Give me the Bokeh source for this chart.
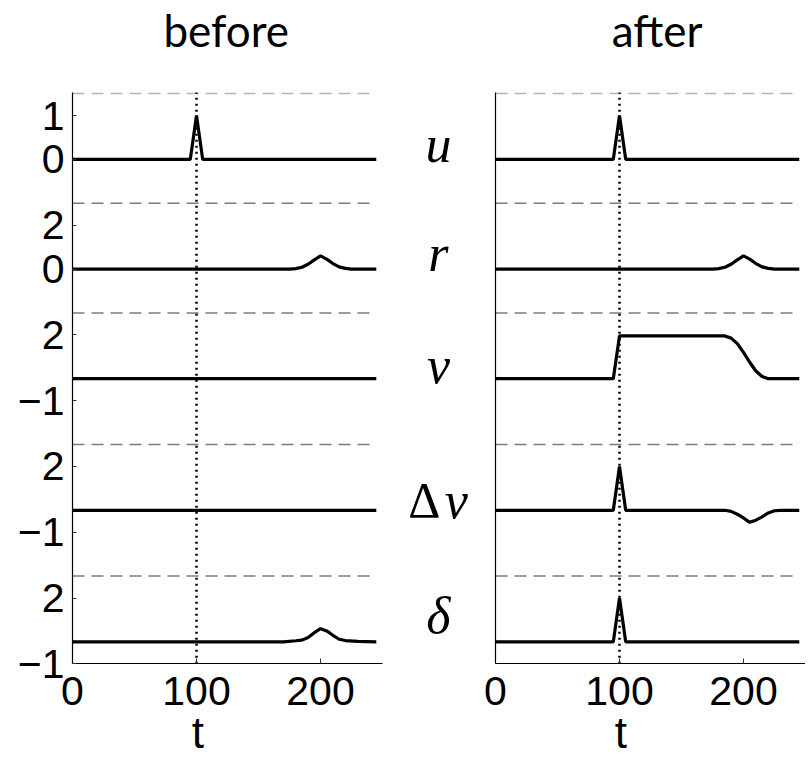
from bokeh.plotting import figure
from bokeh.models import FixedTicker, Label, Range1d, LinearAxis
from bokeh.layouts import row
from bokeh.embed import file_html
from bokeh.resources import INLINE

# ---------------- data ----------------
t_spike = [0, 95, 100, 105, 245]
u_vals = [0, 0, 1, 0, 0]

t_r = [0, 175, 180, 185, 190, 195, 200, 205, 210, 215, 220, 225, 245]
r_vals = [0, 0, 0.02, 0.08, 0.22, 0.42, 0.6, 0.45, 0.25, 0.1, 0.03, 0, 0]

t_flat = [0, 245]
flat_vals = [0, 0]

t_delta_before = [0, 170, 180, 185, 190, 195, 200, 205, 210, 215, 220, 230, 245]
delta_before = [0, 0, 0.05, 0.08, 0.2, 0.42, 0.6, 0.5, 0.3, 0.12, 0.06, 0.02, 0]

t_v_after = [0, 95, 100, 185, 190, 195, 200, 205, 210, 215, 220, 245]
v_after = [0, 0, 1.95, 1.95, 1.85, 1.6, 1.2, 0.75, 0.35, 0.1, 0, 0]

t_dv_after = [0, 95, 100, 105, 185, 190, 195, 200, 205, 210, 215, 220, 225, 230, 245]
dv_after = [0, 0, 2, 0, 0, -0.05, -0.18, -0.35, -0.55, -0.45, -0.3, -0.12, -0.02, 0, 0]

t_delta_after = [0, 95, 100, 105, 245]
delta_after = [0, 0, 2, 0, 0]

before_series = [(t_spike, u_vals), (t_r, r_vals), (t_flat, flat_vals),
                 (t_flat, flat_vals), (t_delta_before, delta_before)]
after_series = [(t_spike, u_vals), (t_r, r_vals), (t_v_after, v_after),
                (t_dv_after, dv_after), (t_delta_after, delta_after)]

panel_names = ["u", "r", "v", "Δv", "δ"]
panel_offsets = [23, 18, 13, 7, 1]
panel_scales = [2, 1, 1, 1, 1]
panel_tops = [26, 21, 16, 10, 4]
panel_ticks = [[1, 0], [2, 0], [2, -1], [2, -1], [2, -1]]
x_ticks = [0, 100, 200]
t_max = 250
y_top = 26.05
event_t = 100
titles = ["before", "after"]

# ---------------- styling ----------------
TICK_FONT = "Liberation Sans"
TICK_SIZE = "41px"
FIG_H = 756
PX_X = 1.24            # px per t unit
PX_Y = 571.3 / y_top   # px per stacked unit
AXIS_Y_PX = 663.3      # pixel row of the time axis


def fmt(v):
    return ("−%d" % -v) if v < 0 else "%d" % v


def make_fig(series, title, show_ylabels, width, axis_x_px, title_x):
    x0 = -axis_x_px / PX_X
    x1 = (width - axis_x_px) / PX_X
    y1 = AXIS_Y_PX / PX_Y
    y0 = -(FIG_H - AXIS_Y_PX) / PX_Y
    p = figure(width=width, height=FIG_H, output_backend="svg", toolbar_location=None,
               x_range=Range1d(x0, x1), y_range=Range1d(y0, y1),
               x_axis_location=None, y_axis_location=None,
               min_border=0, min_border_left=0, min_border_right=0,
               min_border_top=0, min_border_bottom=0)
    p.outline_line_color = None
    p.grid.visible = False
    p.background_fill_color = "white"
    p.border_fill_color = "white"

    # dashed separators
    for i, top in enumerate(panel_tops):
        col = "#b4b4b4" if i == 0 else "#7c7c7c"
        p.line([0, 245], [top, top], line_color=col, line_width=1.5, line_dash="12 7")

    # dotted event line
    p.line([event_t, event_t], [0, y_top], line_color="black", line_width=2.5,
           line_dash="2 4")

    # data traces
    for (tt, vals), off, sc in zip(series, panel_offsets, panel_scales):
        p.line(tt, [off + sc * v for v in vals], line_color="black", line_width=3.2)

    # time axis
    ax = LinearAxis(fixed_location=0, bounds=(0, t_max), ticker=FixedTicker(ticks=x_ticks))
    ax.major_tick_in = 5
    ax.major_tick_out = 0
    ax.minor_tick_line_color = None
    ax.axis_line_color = "black"
    ax.axis_line_width = 1.2
    ax.major_tick_line_color = "#333333"
    ax.major_label_text_font = TICK_FONT
    ax.major_label_text_font_size = TICK_SIZE
    ax.major_label_text_color = "black"
    ax.major_label_standoff = 13
    p.add_layout(ax, "below")

    # stacked value axis
    ay = LinearAxis(fixed_location=0, bounds=(0, y_top))
    ay.axis_line_color = "black"
    ay.axis_line_width = 1.2
    ay.minor_tick_line_color = None
    if show_ylabels:
        pos, labs = [], {}
        for off, sc, ticks in zip(panel_offsets, panel_scales, panel_ticks):
            for tv in ticks:
                g = off + sc * tv
                pos.append(g)
                labs[g] = fmt(tv)
        ay.ticker = FixedTicker(ticks=pos)
        ay.major_label_overrides = labs
        ay.major_tick_in = 4
        ay.major_tick_out = 0
        ay.major_tick_line_color = "#333333"
        ay.major_label_text_font = TICK_FONT
        ay.major_label_text_font_size = TICK_SIZE
        ay.major_label_text_color = "black"
        ay.major_label_standoff = 8
    else:
        ay.ticker = FixedTicker(ticks=[])
        ay.major_tick_line_color = None
        ay.major_label_text_font_size = "0px"
    p.add_layout(ay, "left")

    p.add_layout(Label(x=title_x, y=28.9, text=title, text_align="center",
                       text_baseline="alphabetic", text_font="Lato",
                       text_font_size="44px", text_color="black"))
    p.add_layout(Label(x=101, y=-3.15, text="t", text_align="center",
                       text_baseline="alphabetic", text_font="Liberation Sans",
                       text_font_size="44px", text_color="black"))
    return p


left = make_fig(before_series, titles[0], True, 390, 72, 124)
right = make_fig(after_series, titles[1], False, 415, 105, 130.4)

# variable names between the two columns
name_y = [23.7, 18.7, 13.6, 7.46, 2.18]
for name, y in zip(panel_names, name_y):
    if name.startswith("Δ"):
        right.add_layout(Label(x=-44.4, y=y, text="Δ", text_align="right",
                               text_baseline="alphabetic",
                               text_font="Liberation Serif",
                               text_font_size="50px", text_color="black"))
        right.add_layout(Label(x=-41, y=y, text="v", text_align="left",
                               text_baseline="alphabetic",
                               text_font="Liberation Serif", text_font_style="italic",
                               text_font_size="52px", text_color="black"))
    else:
        right.add_layout(Label(x=-46, y=y, text=name, text_align="center",
                               text_baseline="alphabetic",
                               text_font="Liberation Serif", text_font_style="italic",
                               text_font_size="52px", text_color="black"))

layout = row(left, right)
open("out.html", "w").write(file_html(layout, INLINE))
